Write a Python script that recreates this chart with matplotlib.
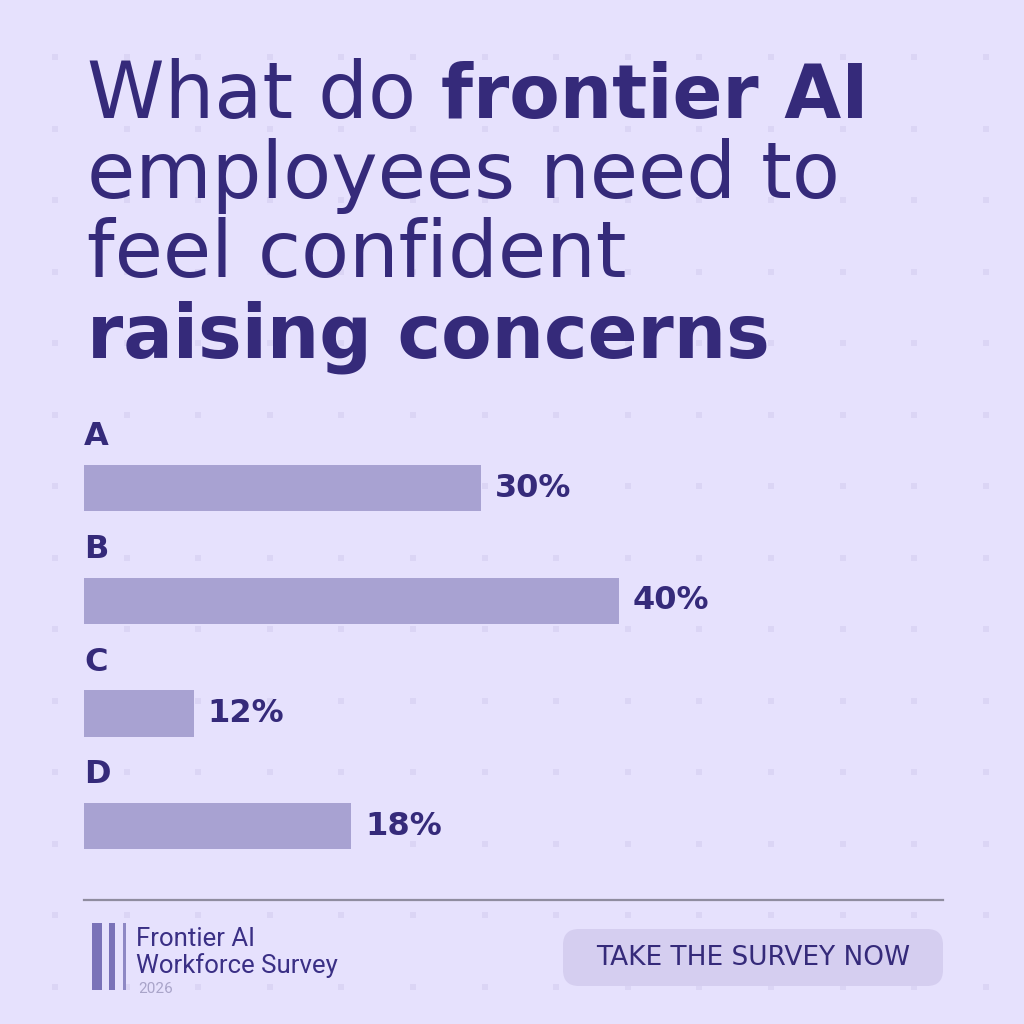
import matplotlib
matplotlib.use("Agg")
import matplotlib.pyplot as plt
from matplotlib.patches import FancyBboxPatch, Rectangle
import numpy as np

# ---- data ----
categories = ["A", "B", "C", "D"]
bar_lengths = [29.7, 40.0, 8.2, 20.0]          # bar lengths as drawn (percent scale)
value_labels = ["30%", "40%", "12%", "18%"]     # labels printed next to bars
title_lines = [
    [("What do ", "normal"), ("frontier AI", "bold")],
    [("employees need to", "normal")],
    [("feel confident", "normal")],
    [("raising concerns", "bold")],
]
cta_text = "TAKE THE SURVEY NOW"
logo_lines = ["Frontier AI", "Workforce Survey"]
logo_year = "2026"

BG = "#E6E1FD"
INK = "#352A7A"
BAR = "#A8A2D2"
FONT = "DejaVu Sans"

W = H = 1024
fig = plt.figure(figsize=(10.24, 10.24), dpi=100, facecolor=BG)

# overlay axes in pixel coordinates
ov = fig.add_axes([0, 0, 1, 1])
ov.set_xlim(0, W)
ov.set_ylim(H, 0)
ov.axis("off")
ov.set_facecolor(BG)

# faint dot grid decoration
gx = 55 + 71.6 * np.arange(14)
gy = 57 + 71.5 * np.arange(14)
GX, GY = np.meshgrid(gx, gy)
ov.scatter(GX.ravel(), GY.ravel(), marker="s", s=18, color="#DBD5F5", lw=0, zorder=0)

# title
baselines = [118, 198, 277, 357]
fs = {"normal": 56.5, "bold": 53}
for line, yb in zip(title_lines, baselines):
    prev = None
    for txt, wt in line:
        if prev is None:
            prev = ov.text(87, yb, txt, fontsize=fs[wt], fontweight=wt, color=INK,
                           family=FONT, va="baseline", ha="left", zorder=3)
        else:
            prev = ov.annotate(txt, xy=(1, yb), xycoords=(prev, ov.transData),
                               fontsize=fs[wt], fontweight=wt, color=INK,
                               family=FONT, va="baseline", ha="left", zorder=3)

# bar axes: px 84..940 horizontally, 420.4..871.2 vertically
px_per_pct = 13.37
left_px, right_px = 84, 940
top_px, bot_px = 420.4, 871.2
bx = fig.add_axes([left_px / W, 1 - bot_px / H, (right_px - left_px) / W, (bot_px - top_px) / H])
bx.set_xlim(0, (right_px - left_px) / px_per_pct)
bx.set_ylim(3.4, -0.6)
bx.axis("off")
bx.patch.set_alpha(0)
ypos = np.arange(len(categories))
bx.barh(ypos, bar_lengths, height=0.41, color=BAR, zorder=2)
for y, cat, v, lab in zip(ypos, categories, bar_lengths, value_labels):
    bx.text(0, y - 0.455, cat, fontsize=23, fontweight="bold", color=INK, family=FONT,
            va="center", ha="left")
    bx.annotate(lab, xy=(v, y), xytext=(10, 0), textcoords="offset points",
                fontsize=23, fontweight="bold", color=INK, family=FONT,
                va="center", ha="left")

# divider
ov.plot([84, 943], [900, 900], color="#8F8C9F", lw=1.6, zorder=2)

# logo bars
for x0, w, c in [(92, 10, "#7A72B8"), (109, 6, "#7A72B8"), (123, 3, "#8E88C4")]:
    ov.add_patch(Rectangle((x0, 923), w, 67, color=c, lw=0, zorder=3))
ov.text(136, 946, logo_lines[0], fontsize=18.5, color="#3A2F85", family="Roboto",
        va="baseline", ha="left")
ov.text(136, 973, logo_lines[1], fontsize=18.5, color="#3A2F85", family="Roboto",
        va="baseline", ha="left")
ov.text(138, 993, logo_year, fontsize=11, color="#A9A4C9", family="Roboto",
        va="baseline", ha="left")

# CTA button
ov.add_patch(FancyBboxPatch((563, 929), 380, 57, boxstyle="round,pad=0,rounding_size=16",
                            fc="#D5CEF0", ec="none", zorder=2))
ov.text(753, 958, cta_text, fontsize=19, color=INK, family=FONT, va="center", ha="center",
        zorder=3)

fig.savefig("out.png", dpi=100, facecolor=BG)
